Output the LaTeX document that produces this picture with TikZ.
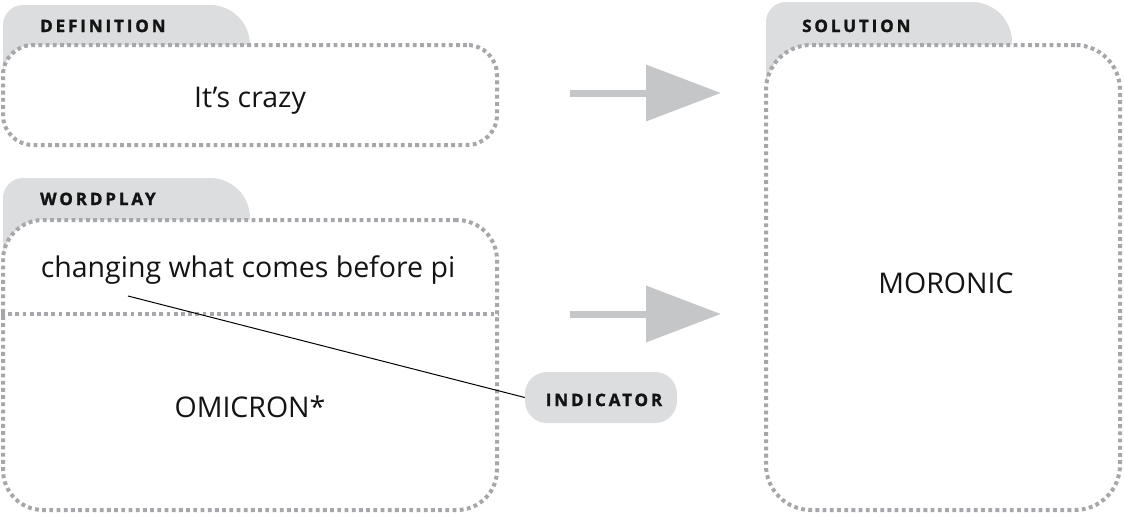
\documentclass[tikz,border=0pt]{standalone}
\usepackage{fontspec}
\setmainfont{Open Sans}
\newfontfamily\labelfont[LetterSpace=17,BoldFeatures={FakeBold=1.6}]{Open Sans}
\usetikzlibrary{arrows.meta}
\definecolor{tabgray}{HTML}{DCDDDF}
\definecolor{arrowgray}{HTML}{C5C6C8}
\definecolor{dotgray}{HTML}{A5A7AA}
\begin{document}
\begin{tikzpicture}[x=1pt,y=-1pt,
  box/.style={draw=dotgray, line width=4pt, dash pattern=on 3.8pt off 3.4pt, fill=white, rectangle, inner sep=0pt},
  dotline/.style={draw=dotgray, line width=4pt, dash pattern=on 3.8pt off 3.4pt},
  tablabel/.style={font=\labelfont\bfseries\fontsize{17}{17}\selectfont, anchor=base west, inner sep=0pt, text=black!92},
  maintext/.style={font=\fontsize{28.5}{32}\selectfont, anchor=base, inner sep=0pt, text=black!92},
  bigarrow/.style={draw=arrowgray, line width=7pt, -{Triangle[length=75pt,width=55pt]}},
  indbox/.style={fill=tabgray, rounded corners=22pt, minimum width=152pt, minimum height=51pt, inner sep=0pt},
  pointer/.style={draw=black, line width=1pt}
  ]
\useasboundingbox (0,0) rectangle (1124,515);

% tabs
\fill[tabgray] (3,85) -- (3,25) arc[start angle=180,end angle=270,radius=20] -- (210,5) arc[start angle=270,end angle=360,radius=40] -- (250,45) -- (250,85) -- cycle;
\fill[tabgray] (3,265) -- (3,198) arc[start angle=180,end angle=270,radius=20] -- (210,178) arc[start angle=270,end angle=360,radius=40] -- (250,218) -- (250,265) -- cycle;
\fill[tabgray] (766,100) -- (766,22) arc[start angle=180,end angle=270,radius=20] -- (972,2) arc[start angle=270,end angle=360,radius=40] -- (1012,42) -- (1012,100) -- cycle;

% boxes
\node[box, rounded corners=30pt, minimum width=494pt, minimum height=100pt] (def) at (250,95) {};
\node[box, rounded corners=40pt, minimum width=494pt, minimum height=290pt] (wp) at (250,365) {};
\node[box, rounded corners=45pt, minimum width=354pt, minimum height=465pt] (sol) at (943,277.5) {};

% divider
\coordinate (divy) at (0,314);
\draw[dotline] (wp.west |- divy) -- (wp.east |- divy);

% tab labels
\node[tablabel] (deflabel) at (40,32) {DEFINITION};
\node[tablabel] (wplabel) at (40,205) {WORDPLAY};
\node[tablabel] (sollabel) at (802,32) {SOLUTION};

% texts
\node[maintext] (deftext) at (250,107) {It’s crazy};
\node[maintext] (clue) at (248,277) {changing what comes before pi};
\node[maintext] (fodder) at (250,417) {OMICRON*};
\node[maintext] (answer) at (946,293) {MORONIC};

% indicator
\node[indbox] (ind) at (601,397.5) {};
\node[tablabel, anchor=base] (indlabel) at (604,406) {INDICATOR};
\coordinate (clueanchor) at (128,296);
\draw[pointer] (clueanchor) -- (ind.west);

% arrows
\coordinate (arr2) at (0,314);
\draw[bigarrow, shorten <=71pt, shorten >=43pt] (def.east |- 0,93) -- (sol.west |- 0,93);
\draw[bigarrow, shorten <=71pt, shorten >=43pt] (wp.east |- arr2) -- (sol.west |- arr2);
\end{tikzpicture}
\end{document}
